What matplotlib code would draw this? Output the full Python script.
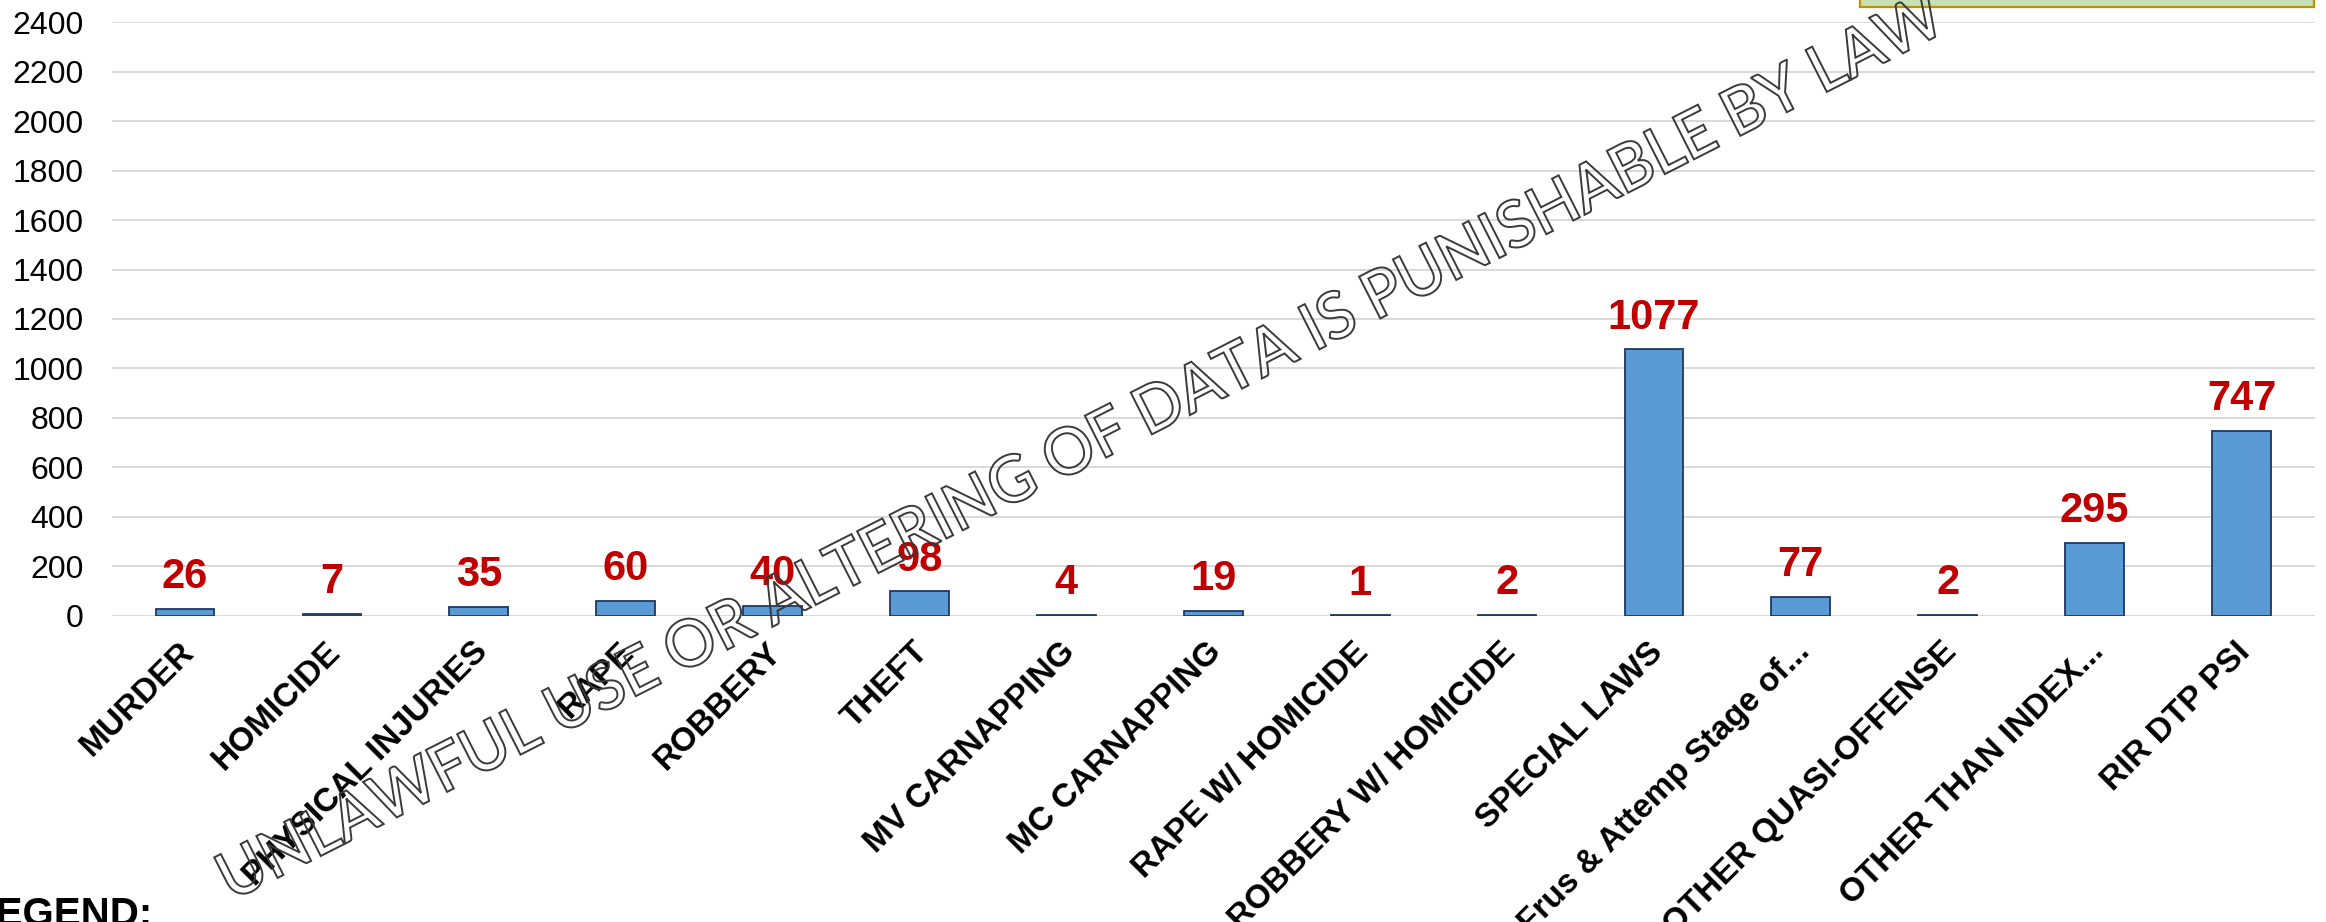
import matplotlib
matplotlib.use("Agg")
import matplotlib.pyplot as plt
import matplotlib.transforms as mtransforms
from matplotlib.textpath import TextPath
from matplotlib.patches import PathPatch, Rectangle
from matplotlib.font_manager import FontProperties

categories = ["MURDER", "HOMICIDE", "PHYSICAL INJURIES", "RAPE", "ROBBERY",
              "THEFT", "MV CARNAPPING", "MC CARNAPPING", "RAPE W/ HOMICIDE",
              "ROBBERY W/ HOMICIDE", "SPECIAL LAWS", "Frus & Attemp Stage of...",
              "OTHER QUASI-OFFENSE", "OTHER THAN INDEX...", "RIR DTP PSI"]
counts = [26, 7, 35, 60, 40, 98, 4, 19, 1, 2, 1077, 77, 2, 295, 747]
yticks = list(range(0, 2401, 200))

plt.rcParams["font.family"] = ["Liberation Sans", "DejaVu Sans"]

W, H = 2326, 922
fig = plt.figure(figsize=(W / 100, H / 100), dpi=100)
ax = fig.add_axes([111.6 / W, 306.4 / H, (2315 - 111.6) / W, (899.7 - 306.4) / H])

x = list(range(len(categories)))
ax.bar(x, counts, width=0.4, color="#5B9BD5", edgecolor="#1F3864", linewidth=1.3, zorder=3)

for xi, v in zip(x, counts):
    ax.annotate(str(v), (xi, v), xytext=(0, 15), textcoords="offset points",
                ha="center", va="baseline", fontsize=30, fontweight="bold",
                color="#C00000", zorder=4)

ax.set_xlim(-0.5, len(categories) - 0.5)
ax.set_ylim(0, 2400)
ax.set_yticks(yticks)
ax.yaxis.grid(True, color="#D9D9D9", linewidth=1.4)
ax.set_axisbelow(True)
for s in ax.spines.values():
    s.set_visible(False)
ax.tick_params(axis="y", length=0, pad=20, labelsize=23)
ax.tick_params(axis="x", length=0, pad=15)
ax.set_xticks(x)
ax.set_xticklabels(categories, rotation=45, ha="right", rotation_mode="anchor",
                   fontsize=24, fontweight="bold")
shift = mtransforms.ScaledTranslation(-0.07, 0, fig.dpi_scale_trans)
for lbl in ax.get_xticklabels():
    lbl.set_transform(lbl.get_transform() + shift)

# green box cut off at the top right
fig.add_artist(Rectangle((1860 / W, 915 / H), 454 / W, 40 / H, transform=fig.transFigure,
                         facecolor="#C5E0B4", edgecolor="#BF9000", linewidth=1.6, zorder=5))

fig.text(-29 / W, -3.6 / H, "LEGEND:", fontsize=29, fontweight="bold",
         ha="left", va="baseline")

# outlined watermark across the chart
wm = "UNLAWFUL USE OR ALTERING OF DATA IS PUNISHABLE BY LAW"
tp = TextPath((0, 0), wm, size=100, prop=FontProperties(family="Lato", weight="semibold"))
bb = tp.get_extents()
tr = (mtransforms.Affine2D()
      .translate(-(bb.x0 + bb.x1) / 2, -(bb.y0 + bb.y1) / 2)
      .scale(1920 / bb.width, 48 / bb.height)
      .rotate_deg(26.9)
      .translate(1081, 478))
fig.add_artist(PathPatch(tp, transform=tr, facecolor="none", edgecolor="#3A3A3A",
                         linewidth=1.4, zorder=10))

fig.savefig("out.png", dpi=100)
